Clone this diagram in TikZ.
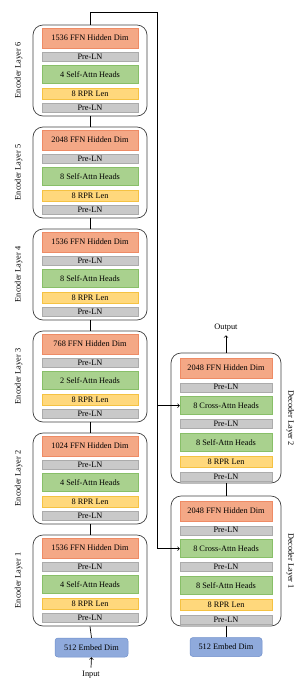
\documentclass[tikz,border=0pt]{standalone}
\usepackage{fontspec}
\setmainfont{Liberation Serif}
\usepackage{tikz}
\usetikzlibrary{positioning}

\definecolor{ffnfill}{HTML}{F4A886}
\definecolor{ffndraw}{HTML}{EE8B65}
\definecolor{lnfill}{HTML}{C9C9C9}
\definecolor{lndraw}{HTML}{ABABAB}
\definecolor{attnfill}{HTML}{A9D18E}
\definecolor{attndraw}{HTML}{88BF68}
\definecolor{rprfill}{HTML}{FFD87C}
\definecolor{rprdraw}{HTML}{F5C242}
\definecolor{embfill}{HTML}{8FAADC}
\definecolor{embdraw}{HTML}{6F8FCB}

\tikzset{
    layer/.style={draw=black!75, line width=0.7pt, rounded corners=10pt, minimum width=114pt, minimum height=91pt, inner sep=0pt},
    blk/.style={line width=0.4pt, minimum width=96pt, inner sep=0pt},
    ffn/.style={blk, fill=ffnfill, draw=ffndraw, minimum height=20pt},
    preln/.style={blk, fill=lnfill, draw=lndraw, minimum height=9pt},
    attn/.style={blk, fill=attnfill, draw=attndraw, minimum height=18pt},
    rpr/.style={blk, fill=rprfill, draw=rprdraw, minimum height=11pt},
    dec/.style={minimum width=92pt},
    embed/.style={fill=embfill, draw=embdraw, line width=0.5pt, rounded corners=3pt, minimum width=73pt, minimum height=19pt, inner sep=0pt}
}

\begin{document}
\begin{tikzpicture}[x=1pt, y=-1pt, font=\fontsize{8.3}{9.6}\selectfont, line width=0.7pt]
    \useasboundingbox (0,0) rectangle (296,689);

    % encoder stack
    \foreach \i/\ffn/\heads in {6/1536/4, 5/2048/8, 4/1536/8, 3/768/2, 2/1024/4, 1/1536/4} {
        \node[layer] (enc\i) at (90, {70.5+102*(6-\i)}) {};
        \node[ffn, below=3pt of enc\i.north] (ffn\i) {\ffn{} FFN Hidden Dim};
        \node[preln, below=4pt of ffn\i] (lnb\i) {Pre-LN};
        \node[attn, below=4pt of lnb\i] (sa\i) {\heads{} Self-Attn Heads};
        \node[rpr, below=4pt of sa\i] (rpr\i) {8 RPR Len};
        \node[preln, below=4pt of rpr\i] (lna\i) {Pre-LN};
        \node[rotate=90] (encl\i) at ([xshift=-14pt]enc\i.west) {Encoder Layer \i};
    }

    % decoder stack
    \foreach \i/\yc in {2/418, 1/561} {
        \node[layer, minimum width=110pt, minimum height=130pt] (dec\i) at (226, \yc) {};
        \node[ffn, dec, below=5pt of dec\i.north] (dffn\i) {2048 FFN Hidden Dim};
        \node[preln, dec, below=4.5pt of dffn\i] (dlnc\i) {Pre-LN};
        \node[attn, dec, below=4.5pt of dlnc\i] (dca\i) {8 Cross-Attn Heads};
        \node[preln, dec, below=4.5pt of dca\i] (dlnb\i) {Pre-LN};
        \node[attn, dec, below=4.5pt of dlnb\i] (dsa\i) {8 Self-Attn Heads};
        \node[rpr, dec, below=4.5pt of dsa\i] (drpr\i) {8 RPR Len};
        \node[preln, dec, below=4.5pt of drpr\i] (dlna\i) {Pre-LN};
        \node[rotate=-90] (decl\i) at ([xshift=9pt]dec\i.east) {Decoder Layer \i};
    }

    \node[embed] (embE) at (91.5, 647.5) {512 Embed Dim};
    \node[embed, minimum width=72pt] (embD) at (226, 647) {512 Embed Dim};
    \node (input) at (91, 675) {Input};
    \node (output) at (226, 328) {Output};
    \coordinate (bus) at (157, 12);

    % connections
    \foreach \i/\j in {1/2, 2/3, 3/4, 4/5, 5/6}
        \draw (enc\i.north) -- (enc\j.south);
    \draw (embE.north) -- (enc1.south);
    \draw[->] (input.north) -- (embE.south);
    \draw (embD.north) -- (dec1.south);
    \draw (dec1.north) -- (dec2.south);
    \draw[->] (dec2.north) -- (output.south);

    % encoder output to cross attention
    \draw (enc6.north) |- (bus);
    \draw[->] (bus) |- (dca1.west);
    \draw[->] (bus |- dca2.west) -- (dca2.west);
\end{tikzpicture}
\end{document}
